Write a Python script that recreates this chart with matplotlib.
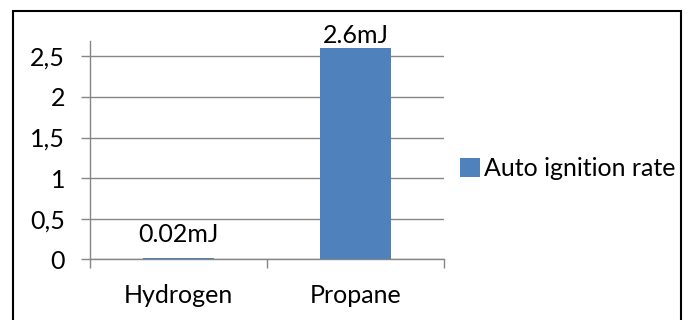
import matplotlib.pyplot as plt
from matplotlib.patches import Rectangle
from matplotlib.ticker import FuncFormatter

categories = ['Hydrogen', 'Propane']
values = [0.02, 2.6]
bar_labels = ['0.02mJ', '2.6mJ']
series_name = 'Auto ignition rate'
yticks = [0, 0.5, 1, 1.5, 2, 2.5]

plt.rcParams['font.family'] = ['Lato', 'DejaVu Sans']
FS = 18

W, H = 688, 320
fig = plt.figure(figsize=(W / 100, H / 100), dpi=100)
ax = fig.add_axes([89.5 / W, (H - 259.3) / H, (444 - 89.5) / W, (259.3 - 41) / H])

x = range(len(categories))
bars = ax.bar(x, values, width=0.4, color='#4F81BD', label=series_name, zorder=3)

ax.set_xlim(-0.5, len(categories) - 0.5)
ax.set_ylim(0, 2.69)
ax.set_yticks(yticks)
ax.yaxis.set_major_formatter(FuncFormatter(lambda v, p: ('%g' % v).replace('.', ',')))
ax.grid(axis='y', color='#868686', lw=1, zorder=0)

ax.set_xticks(list(x))
ax.set_xticklabels(categories)
ax.set_xticks([i - 0.5 for i in range(len(categories) + 1)], minor=True)
ax.tick_params(axis='x', which='major', length=0, pad=18, labelsize=FS)
ax.tick_params(axis='x', which='minor', length=6.8, color='#868686', width=1)
ax.tick_params(axis='y', length=6.5, color='#868686', width=1, labelsize=FS, pad=11)

for s in ['top', 'right']:
    ax.spines[s].set_visible(False)
for s in ['left', 'bottom']:
    ax.spines[s].set_color('#868686')
    ax.spines[s].set_linewidth(1)

for b, lab in zip(bars, bar_labels):
    ax.annotate(lab, (b.get_x() + b.get_width() / 2, b.get_height()),
                xytext=(0, 3.8 if b.get_height() > 1 else 11.3), textcoords='offset points',
                ha='center', va='baseline', fontsize=FS)

fig.legend(handles=[bars], labels=[series_name], loc='center left',
           bbox_to_anchor=(460 / W, (H - 169) / H), frameon=False, fontsize=FS,
           handlelength=0.8, handleheight=0.8, handletextpad=0.15, borderpad=0,
           borderaxespad=0)

fig.patches.append(Rectangle((13 / W, -0.1), (681 - 13) / W, (H - 11) / H + 0.1,
                             transform=fig.transFigure, fill=False, ec='black', lw=1.5))

fig.savefig('out.png', dpi=100)
